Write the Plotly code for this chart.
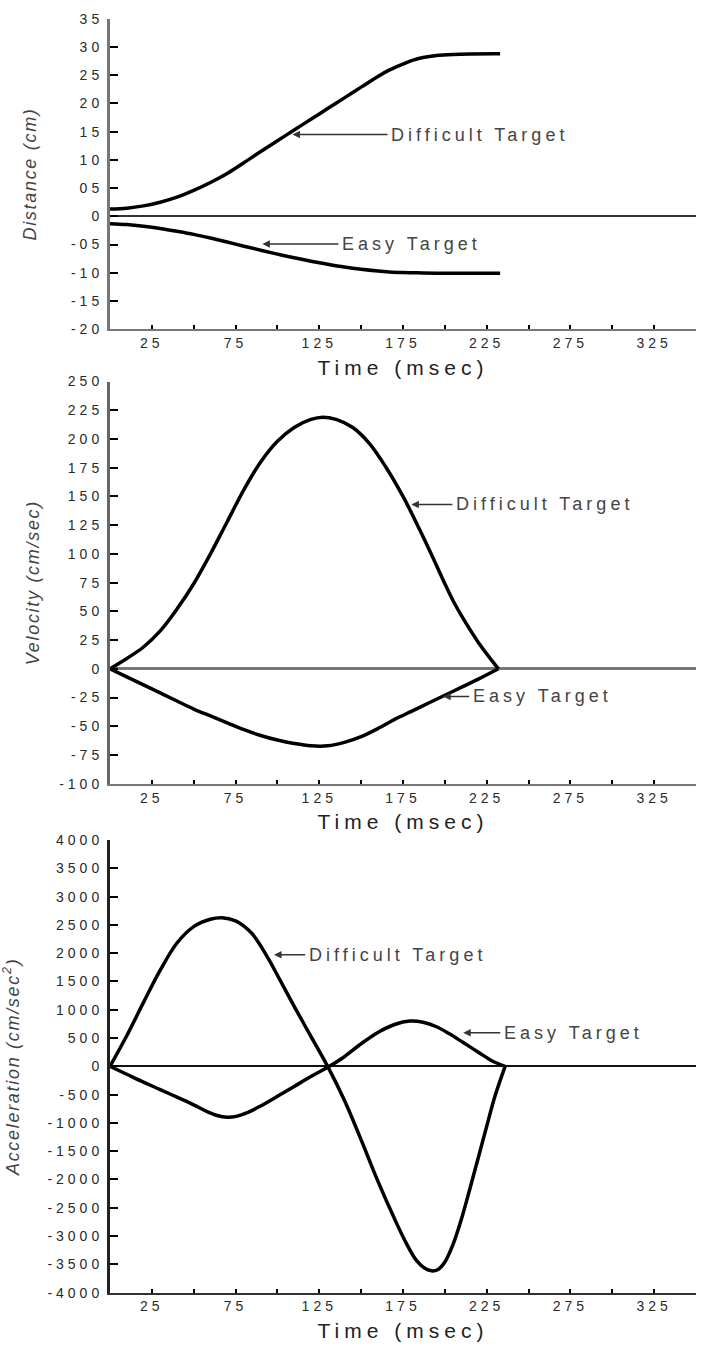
import plotly.graph_objects as go

# ---------------- data ----------------
time_tickvals = [25, 50, 75, 100, 125, 150, 175, 200, 225, 250, 275, 300, 325, 350]
time_ticktext = ["25", "", "75", "", "125", "", "175", "", "225", "", "275", "", "325", ""]

# Distance (cm)
t_dist = [0, 10, 20, 30, 40, 50, 60, 70, 80, 90, 100, 110, 120, 130, 140, 150, 160, 167, 175, 181, 187,
          195, 205, 215, 233]
dist_difficult = [1.3, 1.45, 1.85, 2.5, 3.4, 4.6, 6.0, 7.6, 9.5, 11.5, 13.4, 15.3, 17.2, 19.1, 21.0, 22.9,
                  24.8, 25.95, 27.0, 27.7, 28.15, 28.5, 28.7, 28.78, 28.8]
dist_easy = [-1.3, -1.45, -1.75, -2.15, -2.65, -3.2, -3.85, -4.55, -5.3, -6.0, -6.7, -7.35, -7.95, -8.5,
             -9.0, -9.4, -9.7, -9.85, -9.95, -10.0, -10.05, -10.08, -10.1, -10.1, -10.1]
dist_tickvals = [35, 30, 25, 20, 15, 10, 5, 0, -5, -10, -15, -20]
dist_ticktext = ["35", "30", "25", "20", "15", "10", "05", "0", "-05", "-10", "-15", "-20"]

# Velocity (cm/sec)
t_vel = [0, 10, 20, 30, 40, 50, 60, 70, 80, 90, 100, 110, 120, 127, 135, 145, 155, 165, 175, 185, 195,
         200, 205, 210, 220, 232]
vel_difficult = [0, 9, 19, 33, 52, 74, 100, 128, 156, 180, 198, 210, 217, 219, 217, 210, 196, 175, 150, 121,
                 90, 74, 59, 46, 23, 0]
t_vel_easy = [0, 10, 20, 30, 40, 50, 60, 70, 80, 90, 100, 110, 120, 130, 140, 150, 160, 170, 180, 190, 200,
              210, 220, 232]
vel_easy = [0, -7, -14, -21, -28, -35, -41, -47, -53, -58, -62, -65, -67, -67, -64, -59, -52, -44, -37, -30,
            -23, -16, -9, 0]
vel_tickvals = [250, 225, 200, 175, 150, 125, 100, 75, 50, 25, 0, -25, -50, -75, -100]
vel_ticktext = ["250", "225", "200", "175", "150", "125", "100", "75", "50", "25", "0", "-25", "-50", "-75",
                "-100"]

# Acceleration (cm/sec^2)
t_acc_difficult = [0, 10, 20, 30, 40, 50, 60, 67, 75, 80, 85, 90, 95, 100, 110, 120, 130, 140, 150, 160,
                   170, 177, 183, 188, 192, 196, 200, 205, 210, 215, 220, 225, 230, 236]
acc_difficult = [0, 540, 1130, 1700, 2180, 2470, 2600, 2625, 2570, 2480, 2340, 2130, 1880, 1610, 1060, 530,
                 0, -600, -1300, -2030, -2700, -3130, -3430, -3570, -3615, -3590, -3460, -3140, -2690,
                 -2160, -1610, -1060, -520, 0]
t_acc_easy = [0, 10, 20, 30, 40, 50, 58, 64, 70, 76, 82, 90, 100, 110, 120, 131, 140, 150, 160, 170, 179,
              187, 195, 203, 211, 220, 228, 236]
acc_easy = [0, -140, -280, -410, -545, -680, -800, -870, -900, -880, -820, -700, -530, -355, -180, 0, 170,
            400, 600, 740, 800, 780, 700, 570, 420, 250, 100, 0]
acc_tickvals = [4000, 3500, 3000, 2500, 2000, 1500, 1000, 500, 0, -500, -1000, -1500, -2000, -2500,
                -3000, -3500, -4000]
acc_ticktext = [str(v) for v in acc_tickvals]

# ---------------- figure ----------------
FONT = "Liberation Sans, Arial, sans-serif"
W, H = 705, 1354
X_DOM = [110 / W, 696 / W]


def ydom(top_px, bottom_px):
    return [1 - bottom_px / H, 1 - top_px / H]


fig = go.Figure()
line_style = dict(color="black", width=3.5, shape="spline", smoothing=1.0)

fig.add_trace(go.Scatter(x=t_dist, y=dist_difficult, mode="lines", line=line_style, xaxis="x", yaxis="y",
                         name="Difficult Target"))
fig.add_trace(go.Scatter(x=t_dist, y=dist_easy, mode="lines", line=line_style, xaxis="x", yaxis="y",
                         name="Easy Target"))
fig.add_trace(go.Scatter(x=t_vel, y=vel_difficult, mode="lines", line=line_style, xaxis="x2", yaxis="y2",
                         name="Difficult Target"))
fig.add_trace(go.Scatter(x=t_vel_easy, y=vel_easy, mode="lines", line=line_style, xaxis="x2", yaxis="y2",
                         name="Easy Target"))
fig.add_trace(go.Scatter(x=t_acc_difficult, y=acc_difficult, mode="lines", line=line_style, xaxis="x3",
                         yaxis="y3", name="Difficult Target"))
fig.add_trace(go.Scatter(x=t_acc_easy, y=acc_easy, mode="lines", line=line_style, xaxis="x3", yaxis="y3",
                         name="Easy Target"))

tick_font = dict(family=FONT, size=14, color="#2a2a2a")


def xaxis(anchor, linecolor):
    return dict(domain=X_DOM, anchor=anchor, range=[0, 350], tickmode="array", tickvals=time_tickvals,
                ticktext=time_ticktext, ticks="inside", ticklen=4, tickwidth=2, tickcolor="black",
                showline=True, linewidth=2, linecolor=linecolor, showgrid=False, zeroline=False,
                tickfont=tick_font, fixedrange=True,
                title=dict(text="Time (msec)", font=dict(family=FONT, size=21, color="#222"), standoff=10))


def yaxis(anchor, dom, rng, tv, tt, title, standoff, linecolor, zcolor, zwidth):
    return dict(domain=dom, anchor=anchor, range=rng, tickmode="array", tickvals=tv, ticktext=tt,
                ticks="inside", ticklen=8, tickwidth=2, tickcolor="black", showline=True, linewidth=3,
                linecolor=linecolor, showgrid=False, zeroline=True, zerolinecolor=zcolor,
                zerolinewidth=zwidth, tickfont=tick_font, ticklabelstandoff=1, fixedrange=True,
                title=dict(text=title, font=dict(family=FONT, size=18, color="#444", style="italic"),
                           standoff=standoff))


fig.update_layout(
    width=W, height=H, margin=dict(l=0, r=0, t=0, b=0),
    paper_bgcolor="white", plot_bgcolor="white", showlegend=False,
    xaxis=xaxis("y", "#777"),
    xaxis2=xaxis("y2", "#777"),
    xaxis3=xaxis("y3", "#333"),
    yaxis=yaxis("x", ydom(11, 325), [-20, 35], dist_tickvals, dist_ticktext, "Distance (cm)", 42,
                "#777", "#333", 2),
    yaxis2=yaxis("x2", ydom(378, 785), [-100, 250], vel_tickvals, vel_ticktext, "Velocity (cm/sec)", 31,
                 "#666", "#777", 3),
    yaxis3=yaxis("x3", ydom(842, 1300), [-4000, 4000], acc_tickvals, acc_ticktext,
                 "Acceleration (cm/sec<sup>2</sup>)", 44, "#222", "#111", 2),
)

ann_font = dict(family=FONT, size=18, color="#444")
annotations = [
    # (xref, yref, tip x, tip y, text, text-centre offset in px)
    ("x", "y", 109, 14.5, "Difficult Target", 187),
    ("x", "y", 91, -4.9, "Easy Target", 149),
    ("x2", "y2", 180, 143, "Difficult Target", 133),
    ("x2", "y2", 199, -24, "Easy Target", 99),
    ("x3", "y3", 98, 1974, "Difficult Target", 123),
    ("x3", "y3", 211, 594, "Easy Target", 110),
]
SPACING = 4
for xr, yr, xv, yv, txt, axp in annotations:
    fig.add_annotation(x=xv, y=yv, xref=xr, yref=yr, text=txt, showarrow=True, ax=axp, ay=0,
                       arrowhead=2, arrowsize=1, arrowwidth=1.5, arrowcolor="#333", standoff=0,
                       borderpad=len(txt) * SPACING / 2 + 3, font=ann_font)

css = ("body{margin:0;padding:0}"
       "g[class$='tick'] text{letter-spacing:4px}"
       "text[class^='x'][class$='title']{letter-spacing:5px}"
       "text[class^='y'][class$='title']{letter-spacing:1.7px}"
       ".annotation-text{letter-spacing:%dpx}" % SPACING)
post = "var s=document.createElement('style');s.textContent=\"" + css + "\";document.head.appendChild(s);"

fig.write_html("out.html", post_script=post, config={"displayModeBar": False})
